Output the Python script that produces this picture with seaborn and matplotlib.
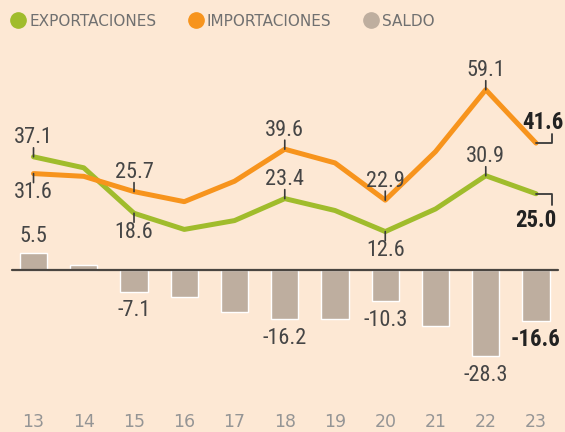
import numpy as np
import pandas as pd
import matplotlib.pyplot as plt
from matplotlib.lines import Line2D
from matplotlib import font_manager as fm
import seaborn as sns

# data
years = [13, 14, 15, 16, 17, 18, 19, 20, 21, 22, 23]
exportaciones = [37.1, 33.5, 18.6, 13.3, 16.2, 23.4, 19.5, 12.6, 20.0, 30.9, 25.0]
importaciones = [31.6, 30.7, 25.7, 22.4, 29.1, 39.6, 35.1, 22.9, 38.8, 59.1, 41.6]
saldo = [5.5, 1.7, -7.1, -8.9, -13.9, -16.2, -16.2, -10.3, -18.4, -28.3, -16.6]
labeled_years = [13, 15, 18, 20, 22]
legend_labels = ["EXPORTACIONES", "IMPORTACIONES", "SALDO"]

BG = "#FDE8D4"
GREEN = "#A0BC2C"
ORANGE = "#F7941D"
GREY = "#BEAE9F"
INK = "#3a3a3a"

sns.set_style("white")
plt.rcParams["font.family"] = ["DejaVu Sans"]


def pick_font(bold):
    # look for any condensed / narrow face installed
    files = [f.fname for f in fm.fontManager.ttflist]
    for key in ["LiberationSansNarrow", "RobotoCondensed", "DejaVuSansCondensed",
                "NotoSans-Condensed", "OpenSans_Condensed", "OpenSans-Condensed"]:
        for f in sorted(files):
            base = f.split("/")[-1]
            if key in base and "Italic" not in base and "Oblique" not in base:
                is_bold = "Bold" in base and "SemiBold" not in base and "ExtraBold" not in base
                if is_bold == bold and ("Regular" in base or bold or base.count("-") == 0
                                        or base.endswith("Condensed.ttf")):
                    return fm.FontProperties(fname=f)
    return fm.FontProperties(family="Liberation Sans", weight="bold" if bold else "normal")


NUM = pick_font(False)
NUMB = pick_font(True)

df = pd.DataFrame({
    "year": years * 2,
    "valor": exportaciones + importaciones,
    "serie": ["EXPORTACIONES"] * len(years) + ["IMPORTACIONES"] * len(years),
})

fig = plt.figure(figsize=(5.65, 4.32), dpi=100)
fig.patch.set_facecolor(BG)
ax = fig.add_axes([0, 0, 1, 1])
ax.set_facecolor(BG)

sns.barplot(x=years, y=saldo, native_scale=True, width=0.54, color=GREY,
            saturation=1, errorbar=None, ax=ax, zorder=1)
sns.lineplot(data=df, x="year", y="valor", hue="serie",
             palette={"EXPORTACIONES": GREEN, "IMPORTACIONES": ORANGE},
             linewidth=3.6, legend=False, ax=ax, zorder=3)
ax.axhline(0, xmin=0.021, xmax=0.987, color="#4a4540", lw=1.6, zorder=2)

ax.set_xlim(12.333, 23.577)
ax.set_ylim(-53.1, 88.5)
ax.axis("off")


def tick_label(x, y, text, up, gap):
    sign = 1 if up else -1
    ax.annotate("", xy=(x, y), xytext=(0, sign * 9), textcoords="offset pixels",
                arrowprops=dict(arrowstyle="-", color=INK, lw=1.2,
                                shrinkA=0, shrinkB=0), zorder=4)
    ax.annotate(text, xy=(x, y), xytext=(0, sign * gap), textcoords="offset pixels",
                ha="center", va="center", fontproperties=NUM, fontsize=16,
                color="#454545", zorder=5)


exp_pos = {13: True, 15: False, 18: True, 20: False, 22: True}
imp_pos = {13: False, 15: True, 18: True, 20: True, 22: True}
for yr in labeled_years:
    i = years.index(yr)
    tick_label(yr, exportaciones[i], f"{exportaciones[i]:.1f}", exp_pos[yr], 19)
    tick_label(yr, importaciones[i], f"{importaciones[i]:.1f}", imp_pos[yr], 19)
    v = saldo[i]
    ax.annotate(f"{v:.1f}", xy=(yr, v), xytext=(0, 17 if v > 0 else -19),
                textcoords="offset pixels", ha="center", va="center",
                fontproperties=NUM, fontsize=16, color="#454545")

# last year: bracket leaders and bold labels
x_last = years[-1]
for val, dy, txt_dx, txt_dy in [(importaciones[-1], 9, 7, 21),
                                (exportaciones[-1], -11, 0, -27)]:
    ax.annotate("", xy=(x_last, val), xytext=(16, dy), textcoords="offset pixels",
                arrowprops=dict(arrowstyle="-", color=INK, lw=1.3, shrinkA=0, shrinkB=0,
                                connectionstyle="angle,angleA=90,angleB=0,rad=0"))
    ax.annotate(f"{val:.1f}", xy=(x_last, val), xytext=(txt_dx, txt_dy),
                textcoords="offset pixels", ha="center", va="center",
                fontproperties=NUMB, fontsize=16.5, color="#222222")
ax.annotate(f"{saldo[-1]:.1f}", xy=(x_last, saldo[-1]), xytext=(0, -19),
            textcoords="offset pixels", ha="center", va="center",
            fontproperties=NUMB, fontsize=16.5, color="#222222")

# year labels
for yr in years:
    ax.text(yr, -49.7, str(yr), ha="center", va="center", fontsize=12.5,
            color="#959595")

handles = [Line2D([], [], marker="o", ls="", markersize=11, color=c)
           for c in (GREEN, ORANGE, GREY)]
fig.legend(handles, legend_labels, loc="upper left", bbox_to_anchor=(-0.008, 1.0),
           ncol=3, frameon=False, handletextpad=0.1, columnspacing=2.0,
           handlelength=1.2, borderaxespad=0.5, prop=dict(size=11),
           labelcolor="#707070")

fig.savefig("out.png", dpi=100, facecolor=BG)
